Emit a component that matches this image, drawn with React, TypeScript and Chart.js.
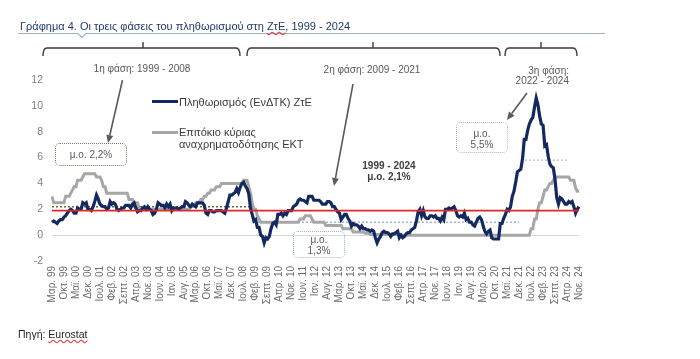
import React, { useEffect, useRef } from 'react';
import { Chart, registerables } from 'chart.js';
Chart.register(...registerables);

// ---------- categories ----------
const MONTH_NAMES = ['Ιαν.', 'Φεβ.', 'Μαρ.', 'Απρ.', 'Μαϊ.', 'Ιουν.', 'Ιουλ.', 'Αυγ.', 'Σεπτ.', 'Οκτ.', 'Νοε.', 'Δεκ.'];
const START_YEAR = 1999;
const START_MONTH = 2; // March
const TICK_EVERY = 7;

// ---------- series (Mar 1999 – Nov 2024), % ----------
const inflation = [
  1.0, 1.1, 1.0, 0.9, 1.1, 1.2, 1.2, 1.4, 1.5, 1.7,
  1.9, 2.0, 1.9, 1.7, 1.7, 2.1, 2.0, 2.0, 2.5, 2.4, 2.5, 2.0,
  2.0, 1.9, 2.2, 2.6, 3.1, 2.8, 2.4, 2.3, 2.2, 2.2, 2.0, 2.1,
  2.6, 2.4, 2.5, 2.4, 2.0, 1.9, 2.0, 2.1, 2.1, 2.3, 2.3, 2.3,
  2.1, 2.4, 2.5, 2.1, 1.8, 1.9, 1.9, 2.1, 2.2, 2.0, 2.2, 2.0,
  1.9, 1.6, 1.7, 2.0, 2.5, 2.4, 2.3, 2.3, 2.1, 2.4, 2.2, 2.4,
  1.9, 2.1, 2.1, 2.1, 2.0, 2.1, 2.2, 2.2, 2.6, 2.5, 2.3, 2.2,
  2.4, 2.3, 2.2, 2.5, 2.5, 2.5, 2.5, 2.3, 1.7, 1.6, 1.9, 1.9,
  1.8, 1.8, 1.9, 1.9, 1.9, 1.9, 1.8, 1.7, 2.1, 2.6, 3.1, 3.1,
  3.2, 3.3, 3.6, 3.3, 3.7, 4.0, 4.1, 3.8, 3.6, 3.2, 2.1, 1.6,
  1.1, 1.2, 0.6, 0.6, 0.0, -0.1, -0.6, -0.2, -0.3, -0.1, 0.5, 0.9,
  1.0, 0.8, 1.6, 1.6, 1.7, 1.5, 1.7, 1.6, 1.9, 1.9, 1.9, 2.2,
  2.3, 2.4, 2.7, 2.8, 2.7, 2.7, 2.6, 2.5, 3.0, 3.0, 3.0, 2.7,
  2.7, 2.7, 2.7, 2.6, 2.4, 2.4, 2.4, 2.6, 2.6, 2.5, 2.2, 2.2,
  2.0, 1.8, 1.7, 1.2, 1.4, 1.6, 1.6, 1.3, 1.1, 0.7, 0.9, 0.8,
  0.8, 0.7, 0.5, 0.7, 0.5, 0.5, 0.4, 0.4, 0.3, 0.4, 0.3, -0.2,
  -0.6, -0.3, -0.1, 0.2, 0.3, 0.2, 0.2, 0.1, -0.1, 0.1, 0.1, 0.2,
  0.3, -0.2, 0.0, -0.2, -0.1, 0.1, 0.2, 0.2, 0.4, 0.5, 0.6, 1.1,
  1.8, 2.0, 1.5, 1.9, 1.4, 1.3, 1.3, 1.5, 1.5, 1.4, 1.5, 1.3,
  1.3, 1.1, 1.4, 1.2, 2.0, 2.0, 2.1, 2.0, 2.1, 2.2, 1.9, 1.5,
  1.4, 1.5, 1.4, 1.7, 1.2, 1.3, 1.0, 1.0, 0.8, 0.7, 1.0, 1.3,
  1.4, 1.2, 0.7, 0.3, 0.1, 0.3, 0.4, -0.2, -0.3, -0.3, -0.3, -0.3,
  0.9, 0.9, 1.3, 1.6, 2.0, 1.9, 2.2, 3.0, 3.4, 4.1, 4.9, 5.0,
  5.1, 5.9, 7.4, 7.4, 8.1, 8.6, 8.9, 9.1, 9.9, 10.6, 10.1, 9.2,
  8.6, 8.5, 6.9, 7.0, 6.1, 5.5, 5.3, 5.2, 4.3, 2.9, 2.4, 2.9,
  2.8, 2.6, 2.4, 2.4, 2.6, 2.5, 2.6, 2.2, 1.7, 2.0, 2.2,
];

const mroRate = [
  3.0, 2.5, 2.5, 2.5, 2.5, 2.5, 2.5, 2.5, 3.0, 3.0,
  3.0, 3.25, 3.5, 3.75, 3.75, 4.25, 4.25, 4.25, 4.5, 4.75, 4.75, 4.75,
  4.75, 4.75, 4.75, 4.75, 4.5, 4.5, 4.5, 4.25, 3.75, 3.75, 3.25, 3.25,
  3.25, 3.25, 3.25, 3.25, 3.25, 3.25, 3.25, 3.25, 3.25, 3.25, 3.25, 2.75,
  2.75, 2.75, 2.5, 2.5, 2.5, 2.0, 2.0, 2.0, 2.0, 2.0, 2.0, 2.0,
  2.0, 2.0, 2.0, 2.0, 2.0, 2.0, 2.0, 2.0, 2.0, 2.0, 2.0, 2.0,
  2.0, 2.0, 2.0, 2.0, 2.0, 2.0, 2.0, 2.0, 2.0, 2.0, 2.0, 2.25,
  2.25, 2.25, 2.5, 2.5, 2.5, 2.75, 2.75, 3.0, 3.0, 3.25, 3.25, 3.5,
  3.5, 3.5, 3.75, 3.75, 3.75, 4.0, 4.0, 4.0, 4.0, 4.0, 4.0, 4.0,
  4.0, 4.0, 4.0, 4.0, 4.0, 4.0, 4.25, 4.25, 4.25, 3.75, 3.25, 2.5,
  2.0, 2.0, 1.5, 1.25, 1.0, 1.0, 1.0, 1.0, 1.0, 1.0, 1.0, 1.0,
  1.0, 1.0, 1.0, 1.0, 1.0, 1.0, 1.0, 1.0, 1.0, 1.0, 1.0, 1.0,
  1.0, 1.0, 1.0, 1.25, 1.25, 1.25, 1.5, 1.5, 1.5, 1.5, 1.25, 1.0,
  1.0, 1.0, 1.0, 1.0, 1.0, 1.0, 0.75, 0.75, 0.75, 0.75, 0.75, 0.75,
  0.75, 0.75, 0.75, 0.75, 0.5, 0.5, 0.5, 0.5, 0.5, 0.5, 0.25, 0.25,
  0.25, 0.25, 0.25, 0.25, 0.25, 0.15, 0.15, 0.15, 0.05, 0.05, 0.05, 0.05,
  0.05, 0.05, 0.05, 0.05, 0.05, 0.05, 0.05, 0.05, 0.05, 0.05, 0.05, 0.05,
  0.05, 0.05, 0, 0, 0, 0, 0, 0, 0, 0, 0, 0,
  0, 0, 0, 0, 0, 0, 0, 0, 0, 0, 0, 0,
  0, 0, 0, 0, 0, 0, 0, 0, 0, 0, 0, 0,
  0, 0, 0, 0, 0, 0, 0, 0, 0, 0, 0, 0,
  0, 0, 0, 0, 0, 0, 0, 0, 0, 0, 0, 0,
  0, 0, 0, 0, 0, 0, 0, 0, 0, 0, 0, 0,
  0, 0, 0, 0, 0, 0, 0.5, 0.5, 1.25, 1.25, 2.0, 2.5,
  2.5, 3.0, 3.5, 3.5, 3.75, 4.0, 4.0, 4.25, 4.5, 4.5, 4.5, 4.5,
  4.5, 4.5, 4.5, 4.5, 4.5, 4.25, 4.25, 4.25, 3.65, 3.4, 3.4,
];

const TARGET_LEVEL = 1.9;
// phase averages (as drawn): start index, end index, level
const phaseStart = [0, 118, 274];
const phaseEnd = [117, 273, 301];
const phaseAverage = [2.2, 1.0, 5.8];

const yTicks = [-2, 0, 2, 4, 6, 8, 10, 12];

const labels: string[] = inflation.map((_, i) => {
  const m = START_MONTH + i;
  const y = START_YEAR + Math.floor(m / 12);
  return `${MONTH_NAMES[m % 12]} ${String(y % 100).padStart(2, '0')}`;
});

// ---------- styles ----------
const NAVY = '#14295f';
const GRAY = '#a6a6a6';
const RED = '#e0282c';
const PHASE_COLORS = ['#5f6e40', '#9db4da', '#b5b5b5'];
const FONT = '"Liberation Sans", Arial, sans-serif';

function drawArrow(ctx: CanvasRenderingContext2D, x1: number, y1: number, x2: number, y2: number) {
  const ang = Math.atan2(y2 - y1, x2 - x1);
  const head = 8;
  const hw = 3.5;
  const bx = x2 - head * Math.cos(ang);
  const by = y2 - head * Math.sin(ang);
  ctx.beginPath();
  ctx.moveTo(x1, y1);
  ctx.lineTo(bx, by);
  ctx.stroke();
  ctx.beginPath();
  ctx.moveTo(x2, y2);
  ctx.lineTo(bx + hw * Math.sin(ang), by - hw * Math.cos(ang));
  ctx.lineTo(bx - hw * Math.sin(ang), by + hw * Math.cos(ang));
  ctx.closePath();
  ctx.fill();
}

function drawBrace(ctx: CanvasRenderingContext2D, x1: number, x2: number, c: number, y: number) {
  ctx.beginPath();
  ctx.moveTo(x1, y + 8);
  ctx.quadraticCurveTo(x1, y, x1 + 4, y);
  ctx.lineTo(x2 - 4, y);
  ctx.quadraticCurveTo(x2, y, x2, y + 8);
  ctx.stroke();
  ctx.beginPath();
  ctx.moveTo(c, y);
  ctx.lineTo(c, y - 6);
  ctx.stroke();
}

const decorPlugin = {
  id: 'decor',
  afterDraw(chart: any) {
    const ctx: CanvasRenderingContext2D = chart.ctx;
    ctx.save();
    // title underline with notch
    ctx.strokeStyle = '#9fb2c9';
    ctx.lineWidth = 1.2;
    ctx.beginPath();
    ctx.moveTo(18, 33.5);
    ctx.lineTo(78, 33.5);
    ctx.lineTo(82, 37.5);
    ctx.lineTo(86, 33.5);
    ctx.lineTo(605, 33.5);
    ctx.stroke();
    // braces
    ctx.strokeStyle = '#3a3a3a';
    ctx.lineWidth = 1.4;
    drawBrace(ctx, 43, 240, 143, 48);
    drawBrace(ctx, 247, 500, 373, 48);
    drawBrace(ctx, 505, 577, 541, 48);
    // arrows
    ctx.strokeStyle = '#5a5a5a';
    ctx.fillStyle = '#5a5a5a';
    ctx.lineWidth = 1.6;
    drawArrow(ctx, 122.5, 80, 108, 143);
    drawArrow(ctx, 353, 84, 334, 186);
    drawArrow(ctx, 527, 93, 507, 120);
    // legend samples
    ctx.lineWidth = 3;
    ctx.strokeStyle = NAVY;
    ctx.beginPath();
    ctx.moveTo(152, 101.5);
    ctx.lineTo(178, 101.5);
    ctx.stroke();
    ctx.strokeStyle = GRAY;
    ctx.beginPath();
    ctx.moveTo(152, 132.5);
    ctx.lineTo(178, 132.5);
    ctx.stroke();
    ctx.restore();
  },
};

function T(props: { x: number; y: number; align?: 'left' | 'center' | 'right'; style?: React.CSSProperties; children: React.ReactNode }) {
  const { x, y, align = 'left', style, children } = props;
  const tx = align === 'center' ? '-50%' : align === 'right' ? '-100%' : '0';
  return (
    <div
      style={{
        position: 'absolute',
        left: x,
        top: y,
        transform: `translate(${tx}, -50%)`,
        whiteSpace: 'nowrap',
        lineHeight: 1,
        ...style,
      }}
    >
      {children}
    </div>
  );
}

function Box(props: { x: number; y: number; w: number; h: number; color: string }) {
  const { x, y, w, h, color } = props;
  return (
    <div
      style={{
        position: 'absolute',
        left: x,
        top: y,
        width: w,
        height: h,
        boxSizing: 'border-box',
        border: `1.3px dotted ${color}`,
        borderRadius: 5,
      }}
    />
  );
}

export default function App() {
  const ref = useRef<HTMLCanvasElement | null>(null);

  useEffect(() => {
    const canvas = ref.current;
    if (!canvas) return;
    const phaseData = phaseAverage.map((v, p) =>
      labels.map((_, i) => (i >= phaseStart[p] && i <= phaseEnd[p] ? v : null))
    );
    const chart = new Chart(canvas, {
      type: 'line',
      data: {
        labels,
        datasets: [
          {
            label: 'Στόχος',
            data: labels.map(() => TARGET_LEVEL),
            borderColor: RED,
            borderWidth: 1.6,
            pointRadius: 0,
            order: 0,
          },
          {
            label: 'Πληθωρισμός (ΕνΔΤΚ) ΖτΕ',
            data: inflation,
            borderColor: NAVY,
            borderWidth: 3.2,
            pointRadius: 0,
            tension: 0,
            order: 1,
          },
          {
            label: 'Επιτόκιο κύριας αναχρηματοδότησης ΕΚΤ',
            data: mroRate,
            borderColor: GRAY,
            borderWidth: 3,
            pointRadius: 0,
            tension: 0,
            order: 2,
          },
          ...phaseData.map((d, p) => ({
            label: `μ.ο. φάσης ${p + 1}`,
            data: d,
            borderColor: PHASE_COLORS[p],
            borderWidth: 1.4,
            borderDash: [2, 2],
            pointRadius: 0,
            spanGaps: false,
            order: 3,
          })),
        ],
      },
      options: {
        responsive: false,
        animation: false,
        layout: { padding: { top: 80, right: 121, left: 0, bottom: 0 } },
        plugins: { legend: { display: false }, tooltip: { enabled: false }, title: { display: false } },
        scales: {
          x: {
            type: 'category',
            grid: { display: false, drawTicks: false },
            border: { display: false },
            afterFit: (s: any) => {
              s.height = 98;
            },
            ticks: {
              autoSkip: false,
              minRotation: 90,
              maxRotation: 90,
              padding: 5,
              color: '#6e6e6e',
              font: { family: FONT, size: 10 },
              callback: (_v: any, i: number) => (i % TICK_EVERY === 0 ? labels[i] : null),
            },
          },
          y: {
            min: yTicks[0],
            max: yTicks[yTicks.length - 1],
            afterFit: (s: any) => {
              s.width = 52;
            },
            afterBuildTicks: (s: any) => {
              s.ticks = yTicks.map((v) => ({ value: v }));
            },
            grid: {
              drawTicks: false,
              color: (c: any) => (c.tick && c.tick.value === 0 ? '#d9d9d9' : 'rgba(0,0,0,0)'),
              lineWidth: 1,
            },
            border: { display: false },
            ticks: {
              padding: 9,
              color: '#7f7f7f',
              font: { family: FONT, size: 10.5 },
            },
          },
        },
      },
      plugins: [decorPlugin],
    } as any);
    return () => chart.destroy();
  }, []);

  const gray = '#595959';
  return (
    <div
      style={{
        position: 'fixed',
        left: 0,
        top: 0,
        width: 700,
        height: 359,
        background: '#ffffff',
        overflow: 'hidden',
        fontFamily: FONT,
      }}
    >
      <canvas ref={ref} width={700} height={359} style={{ position: 'absolute', left: 0, top: 0, width: 700, height: 359 }} />

      <T x={20} y={26} style={{ fontSize: 11, color: '#1f3a6b' }}>
        Γράφημα 4. Οι τρεις φάσεις του πληθωρισμού στη{' '}
        <span style={{ textDecorationLine: 'underline', textDecorationStyle: 'wavy', textDecorationColor: '#e03030' }}>ΖτΕ</span>, 1999 - 2024
      </T>

      <T x={142} y={69} align="center" style={{ fontSize: 10, color: gray }}>1η φάση: 1999 - 2008</T>
      <T x={372} y={70} align="center" style={{ fontSize: 10, color: gray }}>2η φάση: 2009 - 2021</T>
      <T x={569} y={70.5} align="right" style={{ fontSize: 10, color: gray }}>3η φάση:</T>
      <T x={569} y={80.5} align="right" style={{ fontSize: 10, color: gray }}>2022 - 2024</T>

      <T x={179} y={101.5} style={{ fontSize: 11, color: '#3a3a3a' }}>Πληθωρισμός (ΕνΔΤΚ) ΖτΕ</T>
      <T x={179} y={132} style={{ fontSize: 11, color: '#3a3a3a' }}>Επιτόκιο κύριας</T>
      <T x={179} y={144} style={{ fontSize: 11, color: '#3a3a3a' }}>αναχρηματοδότησης ΕΚΤ</T>

      <T x={389} y={166} align="center" style={{ fontSize: 10, fontWeight: 'bold', color: '#404040' }}>1999 - 2024</T>
      <T x={389} y={177} align="center" style={{ fontSize: 10, fontWeight: 'bold', color: '#404040' }}>μ.ο. 2,1%</T>

      <Box x={55} y={143} w={72} h={23} color="#6f7a55" />
      <T x={91} y={155} align="center" style={{ fontSize: 10, color: gray }}>μ.ο. 2,2%</T>

      <Box x={293} y={231} w={52} h={27} color="#9db4da" />
      <T x={319} y={240} align="center" style={{ fontSize: 10, color: gray }}>μ.ο.</T>
      <T x={319} y={251} align="center" style={{ fontSize: 10, color: gray }}>1,3%</T>

      <Box x={456} y={122} w={52} h={31} color="#b5b5b5" />
      <T x={482} y={134} align="center" style={{ fontSize: 10, color: gray }}>μ.ο.</T>
      <T x={482} y={145} align="center" style={{ fontSize: 10, color: gray }}>5,5%</T>

      <T x={18} y={334} style={{ fontSize: 10.5, color: '#262626' }}>
        Πηγή:{' '}
        <span style={{ textDecorationLine: 'underline', textDecorationStyle: 'wavy', textDecorationColor: '#e03030' }}>Eurostat</span>
      </T>
    </div>
  );
}
